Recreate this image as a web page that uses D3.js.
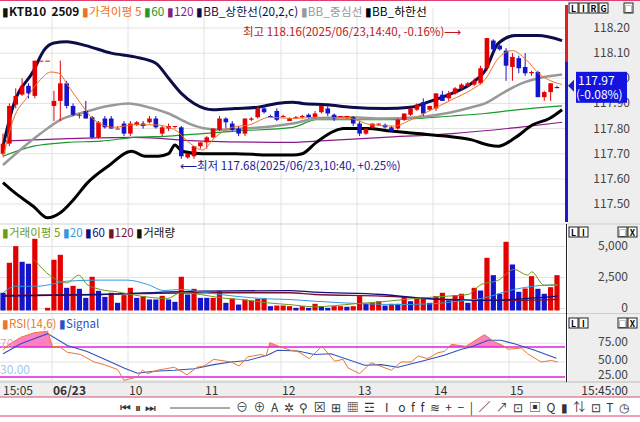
<!DOCTYPE html>
<html><head><meta charset="utf-8">
<script src="https://cdn.jsdelivr.net/npm/d3@7"></script>
<style>
body{margin:0;background:#fff;}
text{font-family:"Noto Sans CJK KR","Noto Sans",sans-serif;}
</style></head>
<body><div id="chart"></div>
<script>
// candles [open, high, low, close], 5-minute bars
const candles = [
[117.70,117.78,117.69,117.74],[117.74,117.90,117.73,117.89],[117.895,117.96,117.88,117.93],[117.935,118.00,117.93,117.97],
[117.97,117.98,117.92,117.94],[117.93,118.07,117.92,118.07],[118.07,118.07,118.07,118.07],[118.07,118.07,118.07,118.07],
[117.89,117.95,117.83,117.91],[117.91,118.07,117.83,117.98],[117.98,117.99,117.88,117.89],[117.89,117.90,117.85,117.855],
[117.855,117.86,117.84,117.855],[117.87,117.91,117.84,117.84],[117.845,117.85,117.76,117.765],[117.765,117.83,117.76,117.825],
[117.84,117.85,117.80,117.805],[117.84,117.85,117.80,117.80],[117.80,117.81,117.80,117.80],[117.82,117.83,117.77,117.78],
[117.78,117.83,117.77,117.82],[117.815,117.83,117.81,117.825],[117.82,117.83,117.80,117.81],[117.825,117.85,117.82,117.84],
[117.84,117.85,117.80,117.805],[117.78,117.81,117.77,117.805],[117.80,117.82,117.79,117.81],[117.81,117.81,117.80,117.81],
[117.805,117.81,117.68,117.69],[117.685,117.70,117.68,117.70],[117.69,117.73,117.68,117.73],[117.73,117.745,117.72,117.745],
[117.745,117.77,117.72,117.765],[117.765,117.80,117.76,117.80],[117.795,117.85,117.79,117.84],[117.84,117.845,117.80,117.825],
[117.82,117.83,117.79,117.795],[117.80,117.81,117.77,117.78],[117.78,117.84,117.77,117.84],[117.835,117.845,117.83,117.84],
[117.845,117.89,117.84,117.88],[117.88,117.89,117.86,117.865],[117.85,117.855,117.85,117.85],[117.87,117.88,117.83,117.835],
[117.85,117.855,117.845,117.85],[117.83,117.845,117.83,117.84],[117.84,117.85,117.84,117.845],[117.845,117.855,117.84,117.85],
[117.855,117.86,117.84,117.845],[117.845,117.87,117.84,117.86],[117.865,117.89,117.86,117.89],[117.88,117.89,117.85,117.86],
[117.855,117.86,117.83,117.84],[117.85,117.85,117.85,117.85],[117.85,117.85,117.84,117.85],[117.845,117.85,117.81,117.82],
[117.82,117.83,117.77,117.78],[117.78,117.80,117.775,117.80],[117.805,117.82,117.80,117.82],[117.82,117.82,117.81,117.82],
[117.815,117.82,117.80,117.805],[117.805,117.81,117.79,117.79],[117.80,117.84,117.795,117.835],[117.835,117.86,117.83,117.86],
[117.855,117.88,117.85,117.88],[117.875,117.90,117.87,117.895],[117.905,117.92,117.85,117.86],[117.875,117.89,117.87,117.89],
[117.88,117.94,117.87,117.94],[117.935,117.95,117.91,117.91],[117.92,117.95,117.91,117.94],[117.94,117.965,117.935,117.96],
[117.96,117.98,117.955,117.975],[117.97,117.985,117.965,117.98],[117.975,118.00,117.97,117.99],[117.98,118.05,117.975,118.04],
[118.04,118.16,118.03,118.16],[118.15,118.155,118.10,118.115],[118.13,118.14,118.11,118.115],[118.11,118.12,117.99,118.05],
[118.045,118.10,117.99,118.085],[118.08,118.09,118.02,118.04],[118.045,118.10,118.01,118.02],[118.02,118.03,118.01,118.025],
[118.025,118.03,117.925,117.925],[117.925,117.95,117.91,117.945],[117.945,117.98,117.91,117.98],[117.965,117.97,117.96,117.965]
];

// overlay lines read as [bar index, value]
const bbUpper = [[0,117.73],[1.6,117.89],[4.8,118.03],[6.4,118.11],[8,118.14],[10,118.145],[13,118.13],[17,118.10],[20.7,118.085],[24,118.06],[26,118.00],[28,117.94],[30,117.90],[33,117.875],[36.5,117.88],[40,117.885],[43,117.90],[45.5,117.905],[47,117.90],[51,117.895],[54.6,117.885],[60,117.88],[64,117.885],[66.7,117.905],[70.5,117.94],[73.6,117.98],[75.7,118.03],[77.8,118.14],[80.5,118.17],[84,118.17],[87.8,118.15]];
const bbMid = [[0,117.655],[2.7,117.715],[5.9,117.78],[9,117.835],[12.7,117.865],[16.5,117.89],[19.7,117.90],[22.8,117.885],[26,117.86],[29.2,117.82],[31.8,117.80],[34.4,117.795],[37.6,117.80],[40.8,117.805],[45.5,117.82],[49.2,117.84],[54.6,117.845],[59.8,117.84],[65.1,117.845],[69.4,117.86],[73.6,117.885],[75.7,117.90],[78.4,117.94],[81,117.975],[84.1,118.00],[87.8,118.015]];
const bbLower = [[0,117.585],[1.6,117.55],[4.8,117.49],[7,117.445],[9,117.465],[11,117.515],[13.3,117.585],[16.5,117.65],[20.2,117.71],[22.3,117.69],[24.4,117.69],[26,117.70],[27,117.735],[28.1,117.71],[31.3,117.70],[36.5,117.70],[41.8,117.695],[45.5,117.695],[47,117.70],[49.2,117.745],[52,117.79],[53.5,117.80],[57.1,117.80],[60.9,117.79],[65.1,117.78],[69.4,117.77],[73.6,117.755],[76.2,117.735],[77.8,117.73],[80.5,117.765],[83.2,117.815],[85.8,117.84],[87.8,117.875]];
const ma5 = [[0,117.685],[1.6,117.835],[3.8,117.925],[5.9,117.995],[7.5,118.025],[8.8,118.02],[10.1,117.975],[12.2,117.90],[14.3,117.835],[17.5,117.805],[20.6,117.815],[23.8,117.815],[27,117.795],[29.2,117.745],[31.3,117.715],[33.3,117.765],[36,117.805],[38.7,117.815],[41.9,117.845],[45.5,117.84],[49.2,117.845],[54.6,117.84],[57.8,117.815],[61.4,117.81],[64.1,117.835],[67.3,117.875],[70.5,117.915],[73.6,117.955],[75.7,117.995],[77.8,118.08],[80,118.11],[82.1,118.075],[84.1,118.02],[87.8,117.975]];
const ma60 = [[0,117.69],[4.8,117.73],[10.1,117.745],[15.4,117.75],[20.6,117.765],[26,117.77],[31.3,117.78],[36.5,117.79],[45.5,117.805],[49.2,117.835],[59.8,117.835],[70.5,117.85],[75.7,117.86],[81,117.875],[87.8,117.89]];
const ma120 = [[0,117.75],[10.1,117.76],[20.6,117.765],[31.3,117.75],[45.5,117.745],[49.2,117.75],[59.8,117.765],[70.5,117.78],[81,117.805],[87.8,117.825]];

const volumes = [1430,3850,5190,3930,3770,5780,0,215,4090,4490,1830,1990,1750,1020,2720,1590,1100,1430,620,1240,1830,1020,1160,890,890,1180,890,700,2720,1290,1750,1020,1020,1020,1560,620,970,480,890,810,940,970,350,400,400,350,
 215,350,215,540,350,215,350,350,300,350,1160,540,620,750,400,540,540,1080,750,1020,1080,620,1160,1430,810,1240,1350,620,1830,1610,4250,2850,1350,5540,3710,1510,1780,2770,1750,1350,1880,2850];
const volDir = "brrbbrrrrrbrbbrbbrbrrbrbbrbbrbrbbrrbrbrrrrbrrrbrbrbbrrbrrbrrbrbrbrrbrrbrrbrbrbbrbbrrbbrr";
const volMa5 = [[4.9,4120],[7.5,2770],[10,2230],[11.9,2850],[13.2,2100],[15.3,1700],[18,1500],[21.6,1160],[25.8,970],[27.9,1430],[31,1290],[34.2,1020],[37.3,890],[41.5,620],[44.9,480],[48.9,300],[55.2,540],[59.4,700],[64.6,970],[69.9,1160],[73,1290],[75.1,2100],[77.7,2420],[80.3,3310],[82.4,2850],[83,3120],[85,2040],[87.1,2100]];
const volMa20 = [[0,1430],[2,1960],[5.4,1960],[7.5,2100],[10.1,2370],[15.3,2450],[19.5,2450],[22.7,2100],[25.3,1610],[27.9,1700],[31,1500],[36.3,1160],[41.5,940],[44.9,890],[48.9,750],[56.8,540],[62,480],[67.3,540],[72.5,810],[75.1,970],[80.3,1700],[85.6,2040],[87.1,2040]];
const volMa60 = [[0,1160],[15.3,1290],[31,1560],[44.9,1610],[48.9,1480],[59.4,1290],[67.3,940],[75.1,810],[87.1,1160]];
const volMa120 = [[0,1210],[15.3,1290],[31,1430],[44.9,1430],[48.9,1290],[59.4,1160],[69.9,890],[80.3,810],[87.1,890]];

const rsi = [[0,65.6],[0.7,72],[2.8,83],[4.9,89],[7,91],[7.8,70],[8.8,71],[10.1,63],[12.2,60],[14.3,50],[15.9,46.5],[18,40],[19,25.6],[21.1,30],[21.9,39],[22.7,34.5],[24.2,39],[26.9,43],[28.9,33],[30.5,43],[31.6,44.7],[33.1,53.6],[35.8,50],[37.1,44.7],[38.4,56.7],[40.5,60],[41.3,58],[41.9,75.8],[43.6,70],[45.2,65.6],[46.3,64],[48.1,54.5],[50.1,71],[52.1,51],[53.4,53.6],[54.2,42],[56,34.5],[57.8,49],[61,39],[62.5,50],[64.1,50],[65.2,58],[66.7,54.5],[68.3,62.5],[69.3,64],[70.4,73.5],[72.7,71],[75.6,86.5],[77.2,76.7],[78.5,72],[79.3,67],[81.4,68.7],[82.4,61],[84.5,50],[86.1,52],[87.1,50]];
const signal = [[0,61],[2.8,74.4],[7,87.8],[10.1,72],[13.2,64],[16.4,52],[19,42],[21.1,35],[23.7,37.6],[26.9,39],[30,41],[33.1,46.5],[35.8,50],[38.4,52],[41.5,59],[43.1,65.6],[46.3,64.7],[48.9,60],[51.5,61],[56.8,45.6],[59.4,46.5],[62,43],[66.2,52],[69.3,59],[72,67],[73.5,70],[76.2,79],[78.2,79],[80.3,74.4],[83.5,65.6],[86.9,55]];

const priceTicks = [118.20,118.10,118.00,117.90,117.80,117.70,117.60,117.50];
const volTicks = [5000,2500,0];
const rsiTicks = [75,50,25];
const hourTicks = [["06/23",52],["10",128],["11",204],["12",281],["13",357],["14",433],["15",509]]; // [label, x]

const W = 640, H = 422, plotR = 565;
const svg = d3.select("#chart").append("svg").attr("width", W).attr("height", H);

const x = d3.scaleLinear().domain([0, 87]).range([3, 557]);
const yP = d3.scaleLinear().domain([117.5, 118.2]).range([204, 28]);
const yV = d3.scaleLinear().domain([0, 5000]).range([310.5, 248.5]);
const yR = d3.scaleLinear().domain([30, 70]).range([377, 347]);

const RED = "#e50000", BLUE = "#1414c8";

// right axis background
svg.append("rect").attr("x", plotR + 3).attr("y", 0).attr("width", W - plotR - 3).attr("height", 397).attr("fill", "#eeeeee");
svg.append("rect").attr("x", 0).attr("y", 382).attr("width", plotR + 3).attr("height", 15).attr("fill", "#eeeeee");

// horizontal grids
const grid = svg.append("g").attr("stroke", "#e2e2e2").attr("stroke-width", 1);
priceTicks.forEach(t => grid.append("line").attr("x1", 0).attr("x2", plotR).attr("y1", yP(t)).attr("y2", yP(t)));
volTicks.forEach(t => grid.append("line").attr("x1", 0).attr("x2", plotR).attr("y1", yV(t) - 2).attr("y2", yV(t) - 2));
rsiTicks.forEach(t => grid.append("line").attr("x1", 0).attr("x2", plotR).attr("y1", yR(t)).attr("y2", yR(t)));
hourTicks.forEach(h => grid.append("line").attr("x1", h[1]).attr("x2", h[1]).attr("y1", 8).attr("y2", 381));

// panel separators
[[224, "#cfcfcf"], [313.5, "#cfcfcf"], [382, "#bbbbbb"], [397, "#d05070"], [416, "#e04070"]].forEach(s =>
  svg.append("line").attr("x1", 0).attr("x2", W).attr("y1", s[0]).attr("y2", s[0]).attr("stroke", s[1]));
svg.append("line").attr("x1", 0).attr("x2", W).attr("y1", 0.5).attr("y2", 0.5).attr("stroke", "#e04070");

// right edge colour bar
svg.append("rect").attr("x", plotR).attr("y", 5).attr("width", 3).attr("height", 57).attr("fill", "#e02020");
svg.append("rect").attr("x", plotR).attr("y", 62).attr("width", 3).attr("height", 160).attr("fill", "#1a1ad0");
svg.append("line").attr("x1", plotR + 1.5).attr("x2", plotR + 1.5).attr("y1", 224).attr("y2", 382).attr("stroke", "#222");

// price panel lines
const lineGen = (ys) => d3.line().x(d => x(d[0])).y(d => ys(d[1])).curve(d3.curveMonotoneX);
const drawLine = (data, ys, color, w) => svg.append("path").datum(data)
  .attr("d", lineGen(ys)).attr("fill", "none").attr("stroke", color).attr("stroke-width", w);

drawLine(ma120, yP, "#8a1a8a", 1.2);
drawLine(ma60, yP, "#1a9a2a", 1.2);
drawLine(bbMid, yP, "#999999", 2.5);
drawLine(bbUpper, yP, "#0d0d4a", 3);
drawLine(bbLower, yP, "#000000", 3);

// candles
const cg = svg.append("g");
candles.forEach((c, i) => {
  const [o, h, l, cl] = c;
  const col = cl > o ? RED : (cl < o ? BLUE : (i > 0 && cl >= candles[i - 1][3] ? RED : BLUE));
  cg.append("line").attr("x1", x(i)).attr("x2", x(i)).attr("y1", yP(h)).attr("y2", yP(l)).attr("stroke", col);
  const top = yP(Math.max(o, cl)), bot = yP(Math.min(o, cl));
  cg.append("rect").attr("x", x(i) - 2.3).attr("y", top).attr("width", 4.6).attr("height", Math.max(1, bot - top)).attr("fill", col);
});
drawLine(ma5, yP, "#f07020", 1);

// annotations
svg.append("text").attr("x", 243).attr("y", 36).attr("font-size", 11.5).attr("fill", "#c01818")
  .text("최고 118.16(2025/06/23,14:40, -0.16%)⟶");
svg.append("text").attr("x", 180).attr("y", 170).attr("font-size", 11.5).attr("fill", "#1a1a90")
  .text("⟵최저 117.68(2025/06/23,10:40, +0.25%)");

// price legend
const leg = svg.append("text").attr("x", 2).attr("y", 16).attr("font-size", 11.8);
[["▮", "#111"], ["KTB10  2509 ", "#111", "bold"], ["▮가격이평 5 ", "#f07020"], ["▮", "#1a9a2a"], ["60 ", "#1a9a2a"],
 ["▮", "#8a1a8a"], ["120 ", "#8a1a8a"], ["▮", "#0d0d4a"], ["BB_상한선(20,2,c) ", "#0d0d4a"], ["▮BB_중심선 ", "#999"],
 ["▮", "#000"], ["BB_하한선", "#000"]].forEach(p =>
  leg.append("tspan").attr("fill", p[1]).attr("font-weight", p[2] || "normal").attr("xml:space", "preserve").text(p[0]));

// price axis
priceTicks.forEach(t => svg.append("text").attr("x", 630).attr("y", yP(t) + 4).attr("text-anchor", "end")
  .attr("font-size", 12).attr("fill", "#444").text(t.toFixed(2)));
const lastY = yP(117.97);
svg.append("path").attr("d", `M${plotR + 3},${lastY} l6,-6 v12 z`).attr("fill", "#1a1ad0");
svg.append("rect").attr("x", 576).attr("y", lastY - 14).attr("width", 51).attr("height", 31).attr("fill", "#1414e0");
svg.append("text").attr("x", 578).attr("y", lastY - 1).attr("font-size", 12).attr("fill", "#fff").text("117.97");
svg.append("text").attr("x", 576).attr("y", lastY + 13).attr("font-size", 12).attr("fill", "#fff").text("(-0.08%)");

// volume bars
const vg = svg.append("g");
volumes.forEach((v, i) => {
  if (v <= 0) return;
  vg.append("rect").attr("x", x(i) - 2.6).attr("y", yV(v)).attr("width", 5.2).attr("height", yV(0) - yV(v))
    .attr("fill", volDir[i] === "r" ? RED : BLUE);
});
drawLine(volMa120, yV, "#7a1030", 1.3);
drawLine(volMa60, yV, "#10107a", 1.3);
drawLine(volMa20, yV, "#3399dd", 1);
drawLine(volMa5, yV, "#6a9a1a", 1);

const vleg = svg.append("text").attr("x", 2).attr("y", 237).attr("font-size", 11.5);
[["▮거래이평 5 ", "#6a9a1a"], ["▮", "#3399dd"], ["20 ", "#3399dd"], ["▮", "#10107a"], ["60 ", "#10107a"],
 ["▮", "#7a1030"], ["120 ", "#7a1030"], ["▮거래량", "#111"]].forEach(p => vleg.append("tspan").attr("fill", p[1]).text(p[0]));
volTicks.forEach(t => svg.append("text").attr("x", 628).attr("y", yV(t) + 1).attr("text-anchor", "end")
  .attr("font-size", 12).attr("fill", "#444").text(d3.format(",")(t)));

// RSI panel
svg.append("clipPath").attr("id", "above70").append("rect").attr("x", 0).attr("y", 315).attr("width", plotR).attr("height", yR(70) - 315);
svg.append("path").datum(rsi).attr("clip-path", "url(#above70)")
  .attr("d", d3.area().x(d => x(d[0])).y0(yR(70)).y1(d => yR(d[1]))).attr("fill", "#ff80c0");
[70, 30].forEach(t => svg.append("line").attr("x1", 0).attr("x2", plotR).attr("y1", yR(t)).attr("y2", yR(t))
  .attr("stroke", "#e020e0").attr("stroke-width", 1.5));
svg.append("path").datum(signal).attr("d", d3.line().x(d => x(d[0])).y(d => yR(d[1])))
  .attr("fill", "none").attr("stroke", "#3050c0").attr("stroke-width", 1.1);
svg.append("path").datum(rsi).attr("d", d3.line().x(d => x(d[0])).y(d => yR(d[1])))
  .attr("fill", "none").attr("stroke", "#e87830").attr("stroke-width", 1);
svg.append("text").attr("x", 0).attr("y", yR(70) + 1).attr("font-size", 12).attr("fill", "#f0a0c0").text("70");
svg.append("text").attr("x", 0).attr("y", yR(30) - 3).attr("font-size", 12).attr("fill", "#a0c8ee").text("30.00");
const rleg = svg.append("text").attr("x", 2).attr("y", 328).attr("font-size", 11.5);
[["▮RSI(14,6) ", "#e87830"], ["▮Signal", "#3050c0"]].forEach(p => rleg.append("tspan").attr("fill", p[1]).text(p[0]));
[[75, 346], [50, 364], [25, 379]].forEach(p => svg.append("text").attr("x", 628).attr("y", p[1]).attr("text-anchor", "end")
  .attr("font-size", 12).attr("fill", "#444").text(p[0].toFixed(2)));

// time axis
svg.append("text").attr("x", 3).attr("y", 394.5).attr("font-size", 12).attr("fill", "#333").text("15:05");
hourTicks.forEach(h => svg.append("text").attr("x", h[1] + 1).attr("y", 394.5).attr("font-size", 12)
  .attr("font-weight", h[0] === "06/23" ? "bold" : "normal").attr("fill", "#333").text(h[0]));
svg.append("text").attr("x", 628).attr("y", 394.5).attr("text-anchor", "end").attr("font-size", 12).attr("fill", "#333").text("15:45:00");

// small panel buttons
const btn = (bx, by, s) => {
  s.split("").forEach((ch, k) => {
    svg.append("rect").attr("x", bx + k * 10).attr("y", by).attr("width", 9).attr("height", 10).attr("fill", "#fff").attr("stroke", "#222");
    svg.append("text").attr("x", bx + k * 10 + 4.5).attr("y", by + 8.5).attr("text-anchor", "middle").attr("font-size", 8.5).attr("font-weight", "bold").text(ch);
  });
};
btn(569, 3, "LIRG"); btn(624, 3, "□");
btn(569, 227, "LI"); btn(618, 227, "□X");
btn(569, 318, "LI"); btn(618, 318, "□X");

// toolbar
svg.append("text").attr("x", 120).attr("y", 412).attr("font-size", 12).attr("fill", "#333")
  .attr("letter-spacing", 4).text("⏮⏸⏭");
svg.append("line").attr("x1", 170).attr("x2", 230).attr("y1", 408).attr("y2", 408).attr("stroke", "#555");
svg.append("text").attr("x", 236).attr("y", 412).attr("font-size", 12).attr("fill", "#333").attr("letter-spacing", 5.5)
  .text("⊖⊕A✲⚲⊠⊞▦☲Ⅰoff≋+−|∕↗⊡▣Q▮⇅⊡T◷");
</script></body></html>
